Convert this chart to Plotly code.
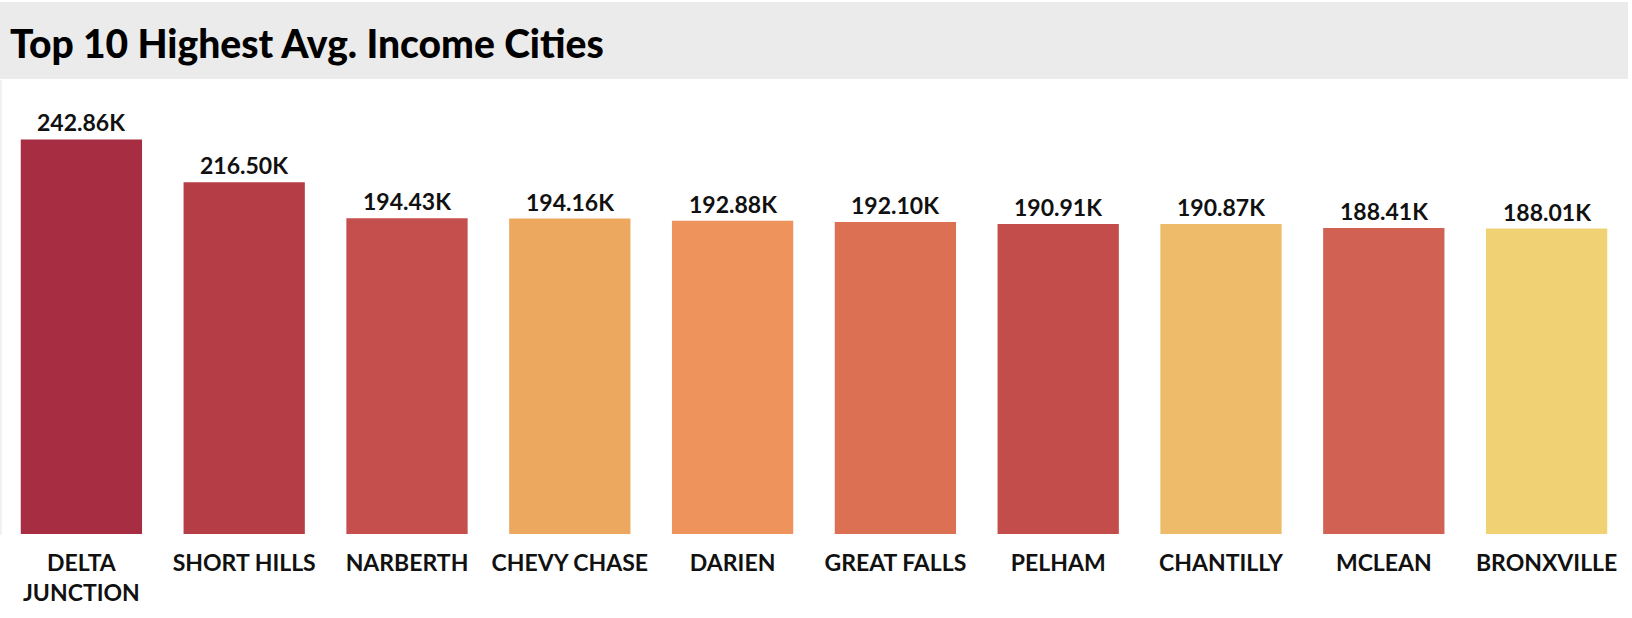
import plotly.graph_objects as go

cities = ["DELTA<br>JUNCTION", "SHORT HILLS", "NARBERTH", "CHEVY CHASE", "DARIEN",
          "GREAT FALLS", "PELHAM", "CHANTILLY", "MCLEAN", "BRONXVILLE"]
avg_income_k = [242.86, 216.50, 194.43, 194.16, 192.88, 192.10, 190.91, 190.87, 188.41, 188.01]
bar_colors = ["#A62D42", "#B53E46", "#C44F4C", "#EDA85F", "#EE935C",
              "#DB7053", "#C24D4B", "#EEBB6A", "#D06153", "#F0D174"]
title_text = "Top 10 Highest Avg. Income Cities"

W, H = 1632, 618
top_px, bottom_px, right_px = 79, 534, 1628

fig = go.Figure(go.Bar(
    x=cities, y=avg_income_k,
    marker=dict(color=bar_colors, line=dict(width=0)),
    hoverinfo="skip",
))

def py(p):
    return (bottom_px - p) / (bottom_px - top_px)

value_labels = [dict(x=c, y=v, text=f"{v:.2f}K", xref="x", yref="y",
                     xanchor="center", yanchor="bottom", showarrow=False, yshift=1,
                     font=dict(family="Lato", size=23, color="#111111", weight=700))
                for c, v in zip(cities, avg_income_k)]

fig.update_layout(
    width=W, height=H,
    margin=dict(l=0, r=W - right_px, t=top_px, b=H - bottom_px),
    paper_bgcolor="white", plot_bgcolor="white",
    bargap=0.255, showlegend=False,
    xaxis=dict(showgrid=False, showline=False, zeroline=False, ticks="",
               tickfont=dict(family="Lato", size=23, color="#111111", weight=700),
               ticklabelstandoff=13),
    yaxis=dict(range=[0, 280.1], visible=False),
    shapes=[
        dict(type="rect", xref="paper", yref="paper", x0=0, x1=1628 / right_px,
             y0=py(79), y1=py(2), fillcolor="#EBEBEB", line=dict(width=0), layer="below"),
        dict(type="line", xref="paper", yref="paper", x0=1 / right_px, x1=1 / right_px,
             y0=py(535), y1=py(80), line=dict(color="#E3E3E3", width=1)),
    ],
    annotations=[dict(text=title_text, xref="paper", yref="paper", x=8 / right_px, y=py(43),
                      xanchor="left", yanchor="middle", showarrow=False,
                      font=dict(family="Lato", size=39, color="#000000", weight=900))]
                + value_labels,
)

fig.write_html("out.html", config={"displayModeBar": False},
               post_script="document.body.style.margin='0px';")
